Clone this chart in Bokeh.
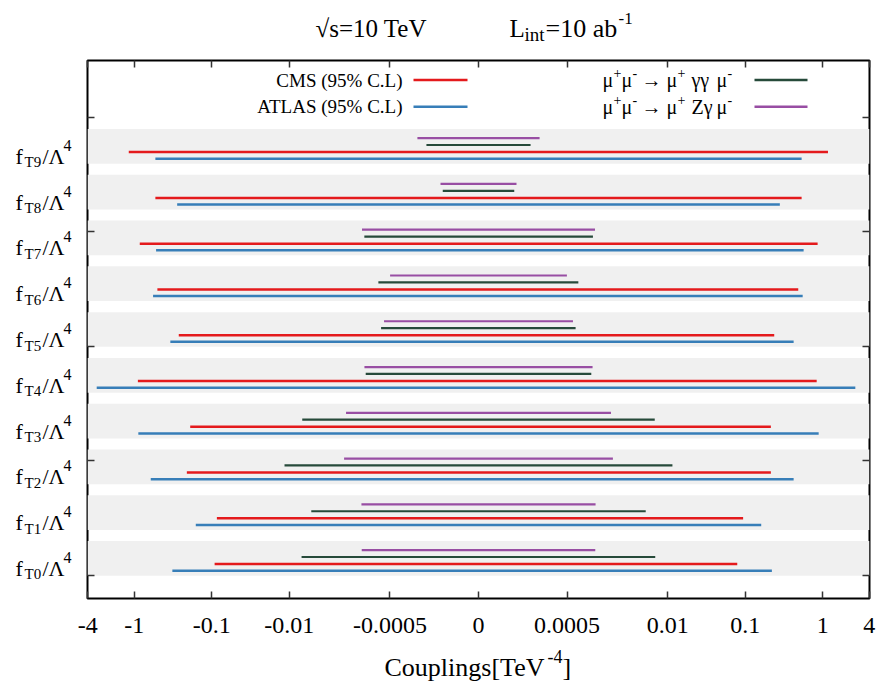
import numpy as np
from bokeh.plotting import figure
from bokeh.layouts import row, column
from bokeh.models import Range1d, FixedTicker, LinearAxis
from bokeh.core.properties import value
from bokeh.embed import file_html
from bokeh.resources import INLINE

# ---------------- data ----------------
rows = ["T0", "T1", "T2", "T3", "T4", "T5", "T6", "T7", "T8", "T9"]
cms_lo = [-0.092, -0.086, -0.21, -0.19, -0.90, -0.267, -0.504, -0.851, -0.535, -1.18]
cms_hi = [0.079, 0.094, 0.2145, 0.2145, 0.837, 0.237, 0.484, 0.861, 0.535, 1.171]
atlas_lo = [-0.323, -0.161, -0.614, -0.888, -3.06, -0.343, -0.573, -0.524, -0.28, -0.535]
atlas_hi = [0.221, 0.161, 0.422, 0.888, 2.64, 0.422, 0.552, 0.568, 0.28, 0.535]
aa_lo = [-0.00694, -0.0052, -0.01152, -0.0068, -0.00103, -0.000651, -0.000706, -0.001073, -0.000092, -0.000162]
aa_hi = [0.0069, 0.0052, 0.0115, 0.0068, 0.00103, 0.000645, 0.0007, 0.001082, 0.000092, 0.000162]
za_lo = [-0.00116, -0.00117, -0.00196, -0.00185, -0.00107, -0.000596, -0.000497, -0.00115, -0.0001, -0.000216]
za_hi = [0.00116, 0.00117, 0.00196, 0.00185, 0.00107, 0.000596, 0.000497, 0.00115, 0.0001, 0.000216]

tick_vals = [-4, -1, -0.1, -0.01, -0.0005, 0, 0.0005, 0.01, 0.1, 1, 4]
tick_labels = ["-4", "-1", "-0.1", "-0.01", "-0.0005", "0", "0.0005", "0.01", "0.1", "1", "4"]

# ---------------- scale (asinh-like axis) ----------------
C = 7.22e-5
def tr(v):
    return np.arcsinh(np.asarray(v, dtype=float) / C)

XMAX = float(tr(4.0)) * 1.0005
FONT = "Liberation Serif"
RED = "#e41a1c"
BLUE = "#377eb8"
GREEN = "#264a3a"
PURPLE = "#984ea3"

# layout geometry (px)
W, H = 883, 689
LEFTW = 73
FR_L, FR_T = 87, 60
FR_W, FR_H = 782, 538
TOPH = 50
MB_T = FR_T - TOPH
MB_L = FR_L - LEFTW
MB_R = W - FR_L - FR_W
MB_B = 50
BOTH = H - TOPH - MB_T - FR_H - MB_B

yr = Range1d(-0.876, 10.876)

def blank(width, height, xr, yrng, mbt=0, mbb=0):
    f = figure(width=width, height=height, x_range=xr, y_range=yrng, output_backend="svg",
               toolbar_location=None, x_axis_location=None, y_axis_location=None,
               min_border_left=0, min_border_right=0, min_border_top=mbt, min_border_bottom=mbb)
    f.grid.visible = False
    f.outline_line_color = None
    f.background_fill_color = "white"
    f.border_fill_color = "white"
    return f

# ---------------- main plot ----------------
p = figure(frame_width=FR_W, frame_height=FR_H, output_backend="svg", toolbar_location=None,
           x_range=Range1d(-XMAX, XMAX), y_range=yr,
           min_border_left=MB_L, min_border_right=MB_R, min_border_top=MB_T, min_border_bottom=MB_B)
p.background_fill_color = "white"
p.border_fill_color = "white"
p.grid.visible = False
p.outline_line_color = "black"
p.outline_line_width = 2

y = np.arange(len(rows), dtype=float)
p.hbar(y=y, left=-XMAX, right=XMAX, height=0.758, fill_color="#f0f0f0", line_color=None)
p.segment(x0=tr(za_lo), x1=tr(za_hi), y0=y + 0.18, y1=y + 0.18, line_color=PURPLE, line_width=2.2)
p.segment(x0=tr(aa_lo), x1=tr(aa_hi), y0=y + 0.03, y1=y + 0.03, line_color=GREEN, line_width=2.2)
p.segment(x0=tr(cms_lo), x1=tr(cms_hi), y0=y - 0.125, y1=y - 0.125, line_color=RED, line_width=2.5)
p.segment(x0=tr(atlas_lo), x1=tr(atlas_hi), y0=y - 0.27, y1=y - 0.27, line_color=BLUE, line_width=2.5)

xt = [float(v) for v in tr(tick_vals)]
yt = [-0.37, 2.13, 4.63, 7.13, 9.63]

def style_axis(ax, ticks, labels=True):
    ax.ticker = FixedTicker(ticks=ticks)
    ax.axis_line_color = None
    ax.major_tick_in = 7
    ax.major_tick_out = 0
    ax.minor_tick_in = 0
    ax.minor_tick_out = 0
    ax.major_tick_line_color = "#333333"
    ax.major_tick_line_width = 1.5
    if labels:
        ax.major_label_text_font = FONT
        ax.major_label_text_font_size = "24px"
        ax.major_label_text_color = "black"
    else:
        ax.major_label_text_color = None
        ax.major_label_text_font_size = "1px"
        ax.major_label_standoff = 0

style_axis(p.xaxis[0], xt)
p.xaxis[0].major_label_overrides = {xt[i]: tick_labels[i] for i in range(len(xt))}
p.xaxis[0].major_label_standoff = 19
style_axis(p.yaxis[0], yt, labels=False)
top = LinearAxis()
style_axis(top, xt, labels=False)
p.add_layout(top, "above")
right = LinearAxis()
style_axis(right, yt, labels=False)
p.add_layout(right, "right")

KX = FR_W / (2 * XMAX)
X0W = FR_L + FR_W / 2.0
def xd(xw):
    return (xw - X0W) / KX

def txt(fig, x, yv, text, size, align="left", baseline="alphabetic", yoff=0):
    fig.text(x=x, y=yv, text=text, text_font=value(FONT), text_font_size=value(size),
             text_align=align, text_baseline=baseline, text_color="black", y_offset=yoff)

# legend
LY1, LY2 = 10.45, 9.866
txt(p, [xd(402), xd(402)], [LY1, LY2], ["CMS (95% C.L)", "ATLAS (95% C.L)"], "19px",
    align="right", baseline="middle")
p.segment(x0=[xd(413)] * 2, x1=[xd(467)] * 2, y0=[LY1, LY2], y1=[LY1, LY2],
          line_color=[RED, BLUE], line_width=2.5)
p.segment(x0=[xd(754)] * 2, x1=[xd(807)] * 2, y0=[LY1, LY2], y1=[LY1, LY2],
          line_color=[GREEN, PURPLE], line_width=2.5)
for ly, mid in [(LY1, "\u03b3\u03b3"), (LY2, "Z\u03b3")]:
    txt(p, [xd(602), xd(621), xd(641), xd(666), xd(691), xd(716)], [ly] * 6,
        ["\u03bc", "\u03bc", "\u2192", "\u03bc", mid, "\u03bc"], "20px", baseline="middle")
    txt(p, [xd(613), xd(632), xd(677), xd(727)], [ly] * 4, ["+", "-", "+", "-"], "14px",
        baseline="middle", yoff=-7)

# ---------------- category label strip ----------------
lf = blank(LEFTW, MB_T + FR_H + MB_B, Range1d(0, LEFTW), yr, mbt=MB_T, mbb=MB_B)
txt(lf, [15] * 10, list(y), ["f"] * 10, "22px", yoff=10)
txt(lf, [24] * 10, list(y), rows, "15px", yoff=16)
txt(lf, [42] * 10, list(y), ["/\u039b"] * 10, "22px", yoff=10)
txt(lf, [63] * 10, list(y), ["4"] * 10, "16px", yoff=-1)

# ---------------- title strip ----------------
tf = blank(W, TOPH, Range1d(0, W), Range1d(TOPH, 0))
txt(tf, [315], [28], ["\u221as=10 TeV"], "25px")
txt(tf, [509], [28], ["L"], "25px")
txt(tf, [524], [34], ["int"], "19px")
txt(tf, [545], [28], ["=10 ab"], "26px")
txt(tf, [618], [18], ["-1"], "17px")

# ---------------- x-axis title strip ----------------
Y0B = TOPH + MB_T + FR_H + MB_B
bf = blank(W, BOTH, Range1d(0, W), Range1d(H, Y0B))
txt(bf, [384], [667], ["Couplings[TeV"], "26px")
txt(bf, [547], [656], ["-4"], "18px")
txt(bf, [562], [667], ["]"], "26px")

layout = column(tf, row(lf, p), bf)
open("out.html", "w").write(file_html(layout, INLINE))
